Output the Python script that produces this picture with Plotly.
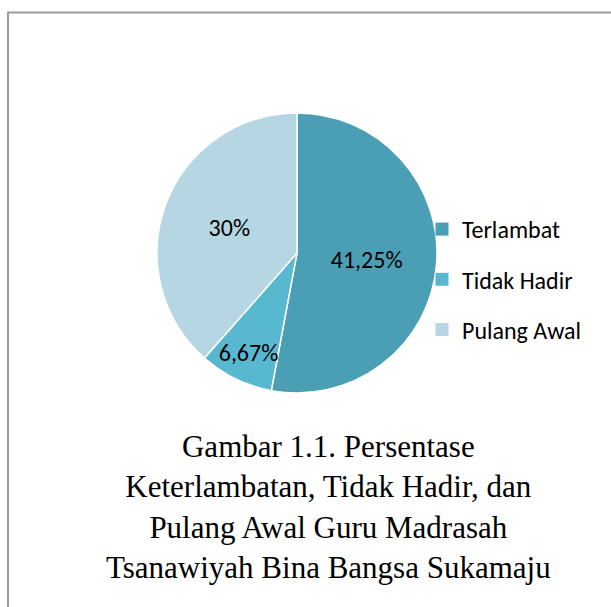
import plotly.graph_objects as go

categories = ["Terlambat", "Tidak Hadir", "Pulang Awal"]
values = [41.25, 6.67, 30]
value_labels = ["41,25%", "6,67%", "30%"]
colors = ["#4A9FB5", "#58B8D0", "#B5D6E2"]
caption = ("Gambar 1.1. Persentase<br>Keterlambatan, Tidak Hadir, dan<br>"
           "Pulang Awal Guru Madrasah<br>Tsanawiyah Bina Bangsa Sukamaju")

W, H = 611, 607
SANS = "Carlito, Calibri, Lato"
fig = go.Figure()

fig.add_trace(go.Pie(
    labels=categories, values=values, text=value_labels,
    textinfo="text", textposition="inside", insidetextorientation="horizontal",
    sort=False, direction="clockwise", rotation=0,
    marker=dict(colors=colors, line=dict(color="white", width=1.5)),
    textfont=dict(family=SANS, size=24, color="black"),
    domain=dict(x=[157 / W, 437 / W], y=[1 - 393 / H, 1 - 113 / H]),
    showlegend=False, hoverinfo="label+text",
))

# legend entries (one per category, spaced via tracegroupgap)
for i, (c, col) in enumerate(zip(categories, colors)):
    fig.add_trace(go.Scatter(
        x=[None], y=[None], mode="markers", name=c,
        marker=dict(symbol="square", size=13, color=col),
        legendgroup=str(i), showlegend=True,
    ))

fig.update_layout(
    width=W, height=H,
    margin=dict(l=0, r=0, t=0, b=0),
    paper_bgcolor="white", plot_bgcolor="white",
    xaxis=dict(visible=False), yaxis=dict(visible=False),
    uniformtext=dict(minsize=24, mode="show"),
    legend=dict(x=422 / W, xanchor="left", y=1 - 207 / H, yanchor="top",
                font=dict(family=SANS, size=24, color="black"),
                tracegroupgap=16, bgcolor="rgba(0,0,0,0)"),
    annotations=[dict(text=caption, x=328 / W, y=1 - 507 / H, xref="paper", yref="paper",
                      xanchor="center", yanchor="middle", showarrow=False, align="center",
                      font=dict(family="Liberation Serif", size=31, color="black"))],
    shapes=[dict(type="rect", xref="paper", yref="paper",
                 x0=8 / W, y0=1 - 12.5 / H, x1=1.05, y1=-0.05,
                 line=dict(color="#9A9A9A", width=2))],
)

fig.write_html("out.html")
